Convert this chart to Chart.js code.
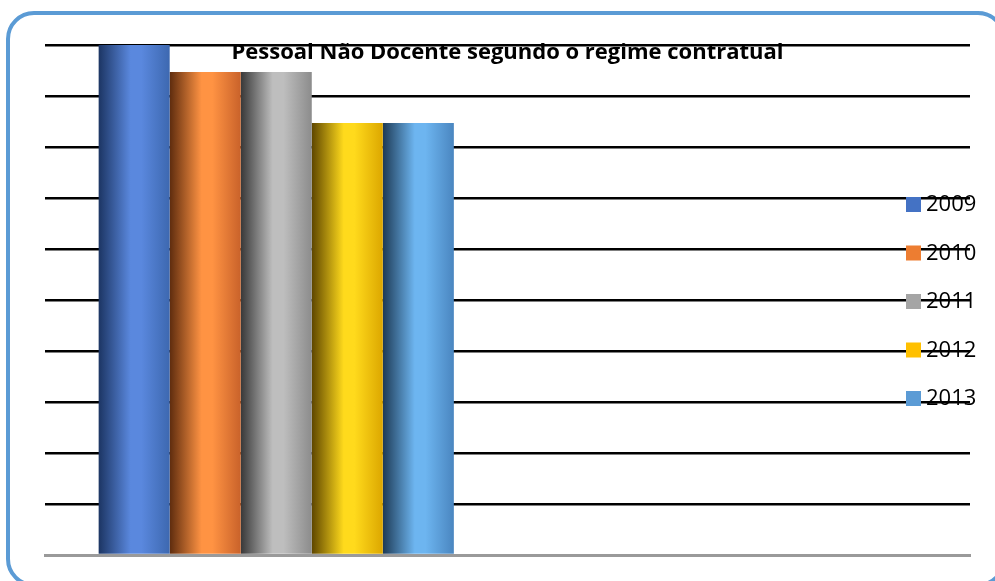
<!DOCTYPE html>
<html>
<head>
<meta charset="utf-8">
<script src="https://cdn.jsdelivr.net/npm/chart.js@4.4.0/dist/chart.umd.min.js"></script>
<style>
  html, body { margin: 0; padding: 0; background: #fff; overflow: hidden; }
  #wrap { position: relative; width: 995px; height: 581px; overflow: hidden; }
  #frame {
    position: absolute; left: 6px; top: 11px; width: 1000px; height: 576px;
    border: 4px solid #5b9bd5; border-radius: 28px; box-sizing: border-box;
  }
  canvas { position: absolute; left: 0; top: 0; }
</style>
</head>
<body>
<div id="wrap">
  <div id="frame"></div>
  <canvas id="myBarChart" width="995" height="581"></canvas>
</div>
<script>
// data
const categories = ['', ''];
const years = ['2009', '2010', '2011', '2012', '2013'];
const values = [10, 9.47, 9.47, 8.47, 8.47];
const titleText = 'Pessoal Não Docente segundo o regime contratual';

// colours: legend swatch + gradient stops (left, middle, right)
const swatches = ['#4472c4', '#ed7d31', '#a5a5a5', '#ffc000', '#5b9bd5'];
const gradStops = [
  ['#1c3563', '#5a88de', '#3d68b0'],
  ['#5e2c0e', '#ff9343', '#c9622a'],
  ['#383838', '#bebebe', '#8c8c8c'],
  ['#5e4600', '#ffda1c', '#dca700'],
  ['#1d3a55', '#6db5f0', '#4a86c0']
];

// plugin: cylinder-like gradient on every bar
const barShading = {
  id: 'barShading',
  beforeDatasetsDraw(chart) {
    const { ctx } = chart;
    chart.data.datasets.forEach((ds, di) => {
      const meta = chart.getDatasetMeta(di);
      meta.data.forEach((bar, i) => {
        if (ds.data[i] == null) return; // empty 2nd category
        const left = bar.x - bar.width / 2;
        const right = bar.x + bar.width / 2;
        const g = ctx.createLinearGradient(left, 0, right, 0);
        const s = gradStops[di];
        g.addColorStop(0, s[0]);
        g.addColorStop(0.45, s[1]);
        g.addColorStop(0.6, s[1]);
        g.addColorStop(1, s[2]);
        bar.options = Object.assign({}, bar.options, { backgroundColor: g });
      });
    });
  }
};

// plugin: title and legend drawn over the plot like the original
const overlay = {
  id: 'overlay',
  afterDraw(chart) {
    const { ctx, chartArea } = chart;
    ctx.save();
    ctx.fillStyle = '#000';
    ctx.font = 'bold 22px "Open Sans"';
    ctx.textAlign = 'center';
    ctx.textBaseline = 'alphabetic';
    ctx.fillText(titleText, (chartArea.left + chartArea.right) / 2, 59);

    ctx.textAlign = 'left';
    ctx.textBaseline = 'middle';
    ctx.font = '22px "Open Sans"';
    years.forEach((y, i) => {
      const cy = 204 + i * 48.5;
      ctx.fillStyle = swatches[i];
      ctx.fillRect(906, cy - 7, 15, 15);
      ctx.fillStyle = '#000';
      ctx.fillText(y, 926, cy + 1);
    });
    ctx.restore();
  }
};

const ctx = document.getElementById('myBarChart');

new Chart(ctx, {
  type: 'bar',
  data: {
    labels: categories,
    datasets: years.map((y, i) => ({
      label: y,
      data: [values[i], null],
      backgroundColor: swatches[i],
      borderWidth: 0
    }))
  },
  options: {
    responsive: false,
    animation: false,
    devicePixelRatio: 1,
    layout: { padding: { left: 45, right: 25, top: 45, bottom: 26 } },
    plugins: {
      legend: { display: false },
      title: { display: false },
      tooltip: { enabled: false }
    },
    datasets: {
      bar: { categoryPercentage: 0.768, barPercentage: 1 }
    },
    scales: {
      x: {
        ticks: { display: false },
        grid: { display: false, drawTicks: false },
        border: { display: true, color: '#9a9a9a', width: 3 }
      },
      y: {
        min: 0,
        max: 10,
        ticks: { display: false, stepSize: 1 },
        grid: { color: '#000', lineWidth: 2.5, drawTicks: false },
        border: { display: false }
      }
    }
  },
  plugins: [barShading, overlay]
});
</script>
</body>
</html>
